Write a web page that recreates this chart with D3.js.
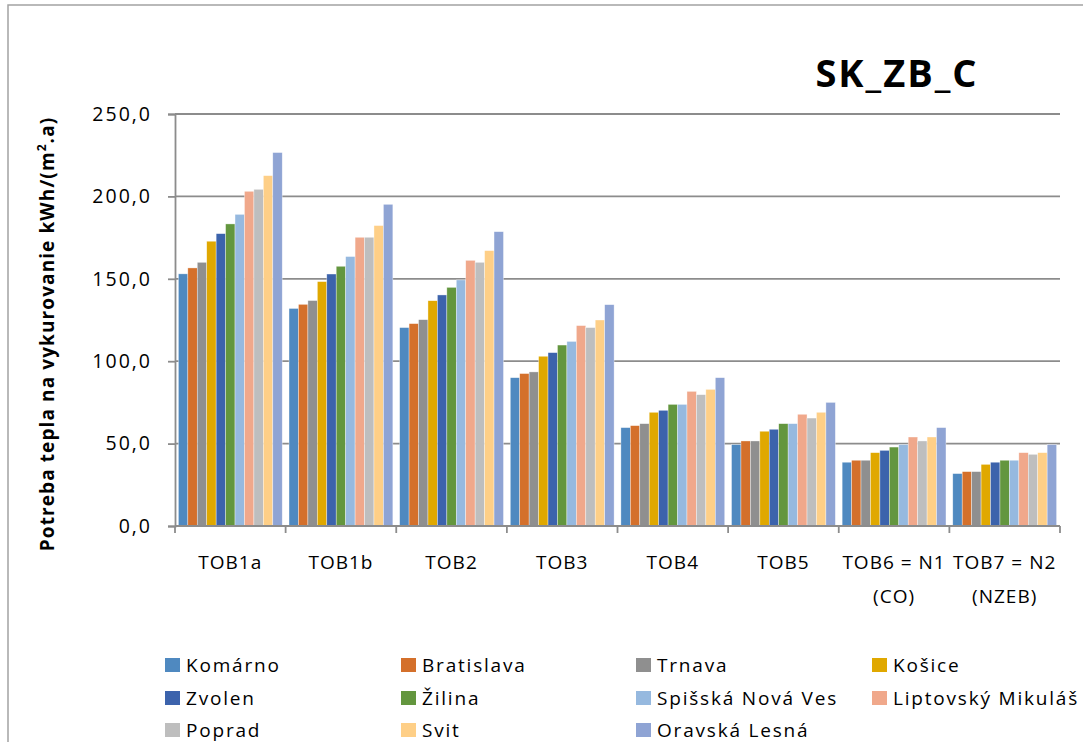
<!DOCTYPE html>
<meta charset="utf-8">
<style>
body { margin: 0; background: #fff; }
text { font-family: "Open Sans", sans-serif; fill: #000; }
</style>
<svg width="1083" height="742"></svg>
<script src="https://d3js.org/d3.v7.min.js"></script>
<script>

// chart data
var categories = ["TOB1a", "TOB1b", "TOB2", "TOB3", "TOB4", "TOB5", "TOB6 = N1|(CO)", "TOB7 = N2|(NZEB)"];
var cities = ["Komárno", "Bratislava", "Trnava", "Košice", "Zvolen", "Žilina",
  "Spišská Nová Ves", "Liptovský Mikuláš", "Poprad", "Svit", "Oravská Lesná"];
var colors = ["#4f89c0", "#d4702b", "#8f8f8f", "#e0a800", "#3c63ac", "#63963e",
  "#96b9df", "#f0a88b", "#bebebe", "#fecf87", "#8fa4d4"];

// one row per city, one value per category
var komarno    = [153, 132, 120.4, 90,   59.7, 49.4, 38.7, 31.8];
var bratislava = [156.6, 134.5, 122.8, 92.5, 60.9, 51.6, 39.9, 33];
var trnava     = [160, 136.8, 125.2, 93.5, 62.1, 51.6, 39.9, 33];
var kosice     = [172.8, 148.3, 136.7, 103, 69, 57.5, 44.5, 37.4];
var zvolen     = [177.4, 152.9, 140.2, 105.2, 70.2, 58.7, 45.9, 38.7];
var zilina     = [183.3, 157.6, 144.8, 109.8, 73.8, 62.1, 47.9, 39.9];
var spisska    = [189.1, 163.5, 149.3, 112, 73.8, 62.1, 49.4, 39.9];
var liptovsky  = [203.1, 175.2, 161.2, 121.6, 81.7, 67.8, 54, 44.5];
var poprad     = [204.3, 175.2, 160, 120.4, 79.7, 65.5, 51.6, 43.5];
var svit       = [212.6, 182.3, 167.1, 125, 82.9, 69, 54, 44.5];
var oravska    = [226.6, 195.2, 178.6, 134.3, 90, 75, 59.7, 49.4];
var values = [komarno, bratislava, trnava, kosice, zvolen, zilina, spisska, liptovsky, poprad, svit, oravska];

var yTicks = [0, 50, 100, 150, 200, 250];

var svg = d3.select("svg");

// outer chart frame (runs past the picture edge like the original)
svg.append("rect")
    .attr("x", 8).attr("y", 5)
    .attr("width", 1200).attr("height", 900)
    .attr("fill", "none")
    .attr("stroke", "#a3a3a3")
    .attr("stroke-width", 1.5);

var x0 = d3.scaleBand().domain(categories).range([175, 1060]).padding(0);
var x1 = d3.scaleBand().domain(cities).range([0, x0.bandwidth()]).paddingInner(0).paddingOuter(0.36);
var y = d3.scaleLinear().domain([0, 250]).range([526, 114]);

var fmt = function(d) { return d3.format(".1f")(d).replace(".", ","); };

// gridlines
svg.append("g")
  .selectAll("line")
  .data(yTicks.slice(1))
  .enter().append("line")
    .attr("x1", 175).attr("x2", 1060)
    .attr("y1", function(d) { return y(d); })
    .attr("y2", function(d) { return y(d); })
    .attr("stroke", "#8c8c8c")
    .attr("stroke-width", 1.8);

// bars
var group = svg.append("g")
  .selectAll("g")
  .data(categories)
  .enter().append("g")
    .attr("transform", function(d) { return "translate(" + x0(d) + ",0)"; });

group.selectAll("rect")
  .data(function(d, i) { return cities.map(function(c, j) { return { city: c, v: values[j][i], k: j }; }); })
  .enter().append("rect")
    .attr("x", function(d) { return x1(d.city); })
    .attr("width", x1.bandwidth())
    .attr("y", function(d) { return y(d.v); })
    .attr("height", function(d) { return y(0) - y(d.v); })
    .attr("fill", function(d) { return colors[d.k]; })
    .attr("stroke", "#fff")
    .attr("stroke-opacity", 0.6)
    .attr("stroke-width", 0.6);

// y axis
var yAxis = svg.append("g")
    .attr("transform", "translate(175,0)")
    .call(d3.axisLeft(y).tickValues(yTicks).tickFormat(fmt).tickSize(7).tickPadding(16));
yAxis.select(".domain").attr("stroke", "#8c8c8c").attr("stroke-width", 1.8);
yAxis.selectAll(".tick line").attr("stroke", "#8c8c8c").attr("stroke-width", 1.8);
yAxis.selectAll(".tick text")
    .style("font-family", "'Open Sans', sans-serif")
    .style("font-size", "19.5px")
    .style("letter-spacing", "2px")
    .attr("fill", "#000");

// x axis line and boundary ticks
svg.append("line")
    .attr("x1", 175).attr("x2", 1060)
    .attr("y1", y(0)).attr("y2", y(0))
    .attr("stroke", "#8c8c8c").attr("stroke-width", 1.8);

var bounds = categories.map(function(c) { return x0(c); }).concat([x0.range()[1]]);
svg.append("g")
  .selectAll("line")
  .data(bounds)
  .enter().append("line")
    .attr("x1", function(d) { return d; }).attr("x2", function(d) { return d; })
    .attr("y1", y(0)).attr("y2", y(0) + 7)
    .attr("stroke", "#8c8c8c").attr("stroke-width", 1.8);

var xl = svg.append("g")
  .selectAll("text")
  .data(categories)
  .enter().append("text")
    .attr("text-anchor", "middle")
    .style("font-size", "19px")
    .style("letter-spacing", "1px");

xl.each(function(d) {
  var t = d3.select(this);
  d.split("|").forEach(function(s, i) {
    t.append("tspan")
      .attr("x", x0(d) + x0.bandwidth() / 2)
      .attr("y", 569 + i * 34)
      .text(s);
  });
});

// y axis title
svg.append("text")
    .attr("transform", "translate(54,334) rotate(-90)")
    .attr("text-anchor", "middle")
    .style("font-size", "19px")
    .style("font-weight", "bold")
    .style("letter-spacing", "1.1px")
    .html('Potreba tepla na vykurovanie  kWh/(m<tspan dy="-8" font-size="12px">2</tspan><tspan dy="8">.a)</tspan>');

// chart title
svg.append("text")
    .attr("x", 897).attr("y", 87)
    .attr("text-anchor", "middle")
    .style("font-size", "38px")
    .style("font-weight", "bold")
    .style("letter-spacing", "2px")
    .text("SK_ZB_C");

// legend
var legendX = [165, 401, 636, 872];
var legendY = [665, 698, 730];
var legend = svg.append("g")
  .selectAll("g")
  .data(cities)
  .enter().append("g")
    .attr("transform", function(d, i) { return "translate(" + legendX[i % 4] + "," + legendY[Math.floor(i / 4)] + ")"; });

legend.append("rect")
    .attr("x", 0).attr("y", -7)
    .attr("width", 15).attr("height", 14)
    .attr("fill", function(d, i) { return colors[i]; });

legend.append("text")
    .attr("x", 21).attr("y", 7)
    .style("font-size", "19px")
    .style("letter-spacing", "1.8px")
    .text(function(d) { return d; });

</script>
